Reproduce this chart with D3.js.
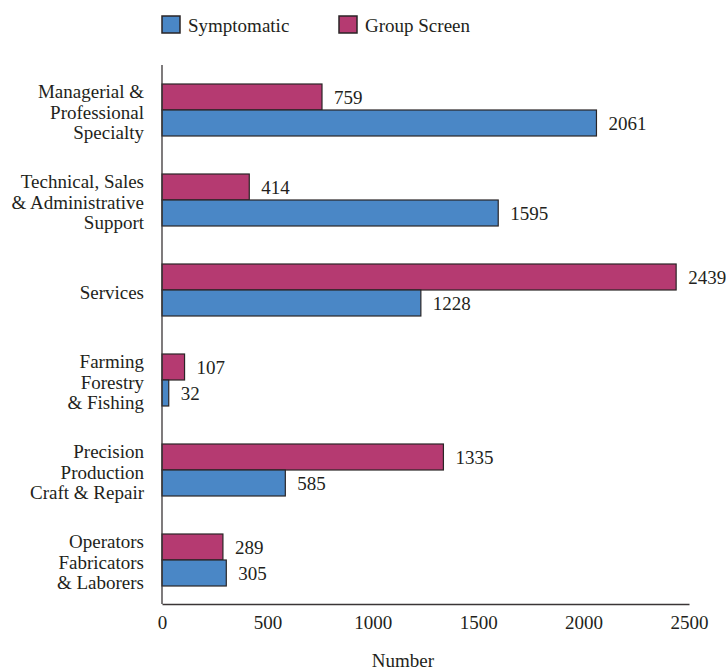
<!DOCTYPE html>
<html>
<head>
<meta charset="utf-8">
<script src="https://cdn.jsdelivr.net/npm/d3@7"></script>
<style>
  html, body { margin: 0; padding: 0; background: #fff; }
  svg { display: block; }
</style>
</head>
<body>
<svg id="chart" width="726" height="671" font-family="Liberation Serif"></svg>
<script>
const categories = [
  ["Managerial &", "Professional", "Specialty"],
  ["Technical, Sales", "& Administrative", "Support"],
  ["Services"],
  ["Farming", "Forestry", "& Fishing"],
  ["Precision", "Production", "Craft & Repair"],
  ["Operators", "Fabricators", "& Laborers"]
];
const seriesNames = ["Group Screen", "Symptomatic"];
const groupScreen = [759, 414, 2439, 107, 1335, 289];
const symptomatic = [2061, 1595, 1228, 32, 585, 305];
const tickValues = [0, 500, 1000, 1500, 2000, 2500];
const legendOrder = ["Symptomatic", "Group Screen"];
const colors = { "Symptomatic": "#4a87c6", "Group Screen": "#b53a71" };

const FONT = "Liberation Serif";
const TEXT_COLOR = "#231f20";
const svg = d3.select("#chart");
const catKeys = categories.map(c => c.join(" "));
const seriesValues = { "Group Screen": groupScreen, "Symptomatic": symptomatic };

const x = d3.scaleLinear().domain([0, 2500]).range([162, 689]);
const y = d3.scaleBand().domain(catKeys).range([65, 605]).paddingInner(38 / 90).paddingOuter(19 / 90);
const ySub = d3.scaleBand().domain(seriesNames).range([0, y.bandwidth()]);

// Bars
const groups = svg.append("g").selectAll("g").data(catKeys).join("g")
  .attr("transform", d => `translate(0,${y(d)})`);

groups.each(function(cat, i) {
  const g = d3.select(this);
  seriesNames.forEach(s => {
    const v = seriesValues[s][i];
    g.append("rect")
      .attr("x", x(0))
      .attr("y", ySub(s))
      .attr("width", x(v) - x(0))
      .attr("height", ySub.bandwidth())
      .attr("fill", colors[s])
      .attr("stroke", "#2a2526")
      .attr("stroke-width", 1.2);
    g.append("text")
      .attr("x", x(v) + 12)
      .attr("y", ySub(s) + ySub.bandwidth() / 2)
      .attr("dominant-baseline", "central")
      .attr("font-family", FONT)
      .attr("fill", TEXT_COLOR)
      .attr("font-size", 19)
      .text(v);
  });
});

// Category labels
const lineH = 20.5;
svg.append("g").selectAll("text").data(categories).join("text")
  .attr("text-anchor", "end")
  .attr("font-family", FONT)
  .attr("fill", TEXT_COLOR)
  .attr("font-size", 19)
  .each(function(lines, i) {
    const cy = y(catKeys[i]) + y.bandwidth() / 2 + 2;
    const t = d3.select(this);
    lines.forEach((ln, j) => {
      t.append("tspan")
        .attr("x", 144)
        .attr("y", cy + (j - (lines.length - 1) / 2) * lineH)
        .attr("dominant-baseline", "central")
        .text(ln);
    });
  });

// Axes
const xAxis = svg.append("g")
  .attr("transform", "translate(0,604)")
  .call(d3.axisBottom(x).tickValues(tickValues).tickSize(0).tickSizeOuter(0).tickPadding(12).tickFormat(d3.format("d")));
xAxis.attr("font-family", FONT).attr("font-size", 19);
xAxis.select(".domain").attr("stroke", "#3a3536").attr("stroke-width", 1.3);
xAxis.selectAll("text")
  .attr("font-family", FONT)
  .attr("font-size", 19)
  .attr("fill", TEXT_COLOR);

svg.append("line")
  .attr("x1", x(0)).attr("x2", x(0))
  .attr("y1", 65).attr("y2", 604)
  .attr("stroke", "#3a3536").attr("stroke-width", 1.3);

svg.append("text")
  .attr("x", 403).attr("y", 660)
  .attr("text-anchor", "middle")
  .attr("dominant-baseline", "central")
  .attr("font-family", FONT)
  .attr("fill", TEXT_COLOR)
  .attr("font-size", 19)
  .text("Number");

// Legend
const legendX = [162, 339];
const lg = svg.append("g").selectAll("g").data(legendOrder).join("g")
  .attr("transform", (d, i) => `translate(${legendX[i]},16)`);
lg.append("rect")
  .attr("width", 18).attr("height", 17)
  .attr("fill", d => colors[d])
  .attr("stroke", "#2a2526").attr("stroke-width", 1.5);
lg.append("text")
  .attr("x", 26).attr("y", 9)
  .attr("dominant-baseline", "central")
  .attr("font-family", FONT)
  .attr("fill", TEXT_COLOR)
  .attr("font-size", 19)
  .text(d => d);
</script>
</body>
</html>
